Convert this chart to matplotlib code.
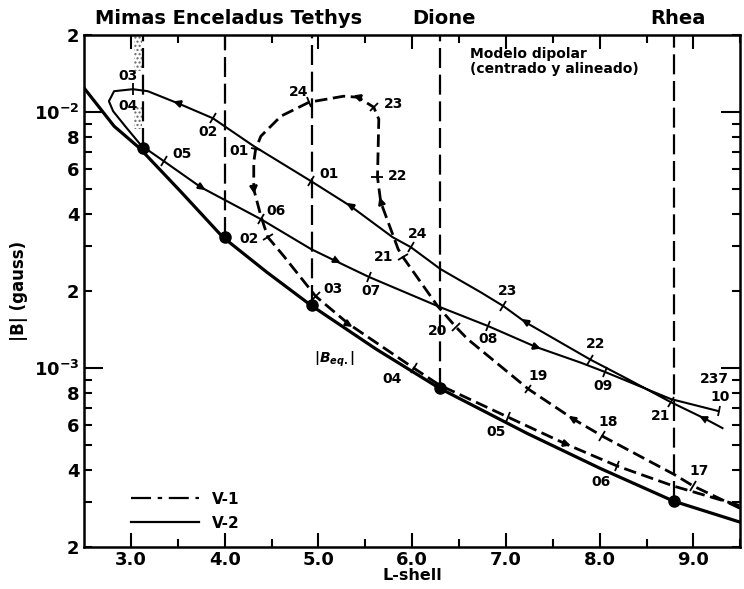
import numpy as np
import matplotlib.pyplot as plt
from matplotlib.markers import MarkerStyle
from matplotlib.transforms import Affine2D
from matplotlib.lines import Line2D

# equatorial dipole field |B_eq|
beq_L = [2.51, 2.82, 3.09, 3.53, 3.98, 4.45, 4.92, 5.61, 6.29, 7.23, 8.01, 8.79, 9.50]
beq_B = [0.0123, 0.00882, 0.00725, 0.00490, 0.00325, 0.00237, 0.00176, 0.00119,
         0.000835, 0.000555, 0.000405, 0.000302, 0.000250]

# Voyager 2 trajectory (solid), in time order
v2_L = [9.31, 9.11, 8.76, 8.30, 7.90, 7.21, 6.97, 6.73, 6.30, 5.985, 5.79, 5.345,
        4.92, 4.31, 3.874, 3.50, 3.18, 3.02, 2.82, 2.765, 2.81, 2.947, 3.107, 3.35,
        3.746, 4.386, 4.92, 5.185, 5.54, 6.30, 6.81, 7.32, 7.80, 8.06, 8.76, 9.27]
v2_B = [0.000583, 0.000638, 0.000736, 0.000906, 0.00108, 0.00151, 0.00175, 0.00198,
        0.00244, 0.00297, 0.00325, 0.00429, 0.00538, 0.00737, 0.00947, 0.01084,
        0.01208, 0.01230, 0.01208, 0.01104, 0.01009, 0.00874, 0.00743, 0.00644,
        0.00509, 0.00382, 0.00292, 0.00262, 0.00227, 0.00173, 0.00146, 0.00121,
        0.00105, 0.000965, 0.000757, 0.000679]
v2_arrows = [1, 5, 11, 15, 24, 27, 31]
v2_ticks = [2, 4, 6, 9, 12, 14, 17, 23, 25, 28, 30, 33, 35]

# Voyager 1 trajectory (dashed), in time order
v1_L = [9.50, 9.00, 8.79, 8.03, 7.72, 7.24, 6.59, 6.465, 6.27, 5.90, 5.85, 5.665,
        5.63, 5.644, 5.59, 5.42, 5.27, 4.90, 4.60, 4.386, 4.33, 4.31, 4.31, 4.386,
        4.46, 4.63, 4.97, 5.32, 6.017, 6.29, 7.02, 7.64, 8.19, 8.79, 9.50]
v1_B = [0.000283, 0.000346, 0.000385, 0.000542, 0.000632, 0.000828, 0.00130, 0.00145,
        0.00175, 0.00272, 0.00292, 0.00445, 0.00557, 0.00939, 0.01046, 0.01144,
        0.01155, 0.01094, 0.00965, 0.00806, 0.00717, 0.00638, 0.00500, 0.00393,
        0.00325, 0.00274, 0.00191, 0.00149, 0.00100, 0.000859, 0.000644, 0.000505,
        0.000414, 0.000346, 0.000290]
v1_arrows = [4, 11, 15, 22, 27, 31]
v1_ticks = [1, 3, 5, 7, 9, 12, 14, 17, 20, 24, 26, 28, 30, 32]

# hour labels
v2_lab = ['21', '22', '23', '24', '01', '02', '03', '04', '05', '06', '07', '08', '09', '10', '237']
v2_lab_L = [8.65, 7.96, 7.02, 6.06, 5.11, 3.82, 2.97, 2.97, 3.55, 4.55, 5.56, 6.81, 8.04, 9.29, 9.22]
v2_lab_B = [0.000650, 0.00124, 0.00200, 0.00334, 0.00573, 0.00835, 0.01383, 0.01055,
            0.00686, 0.00410, 0.00200, 0.00130, 0.000851, 0.000771, 0.000906]
v1_lab = ['17', '18', '19', '20', '21', '22', '23', '24', '01', '02', '03', '04', '05', '06']
v1_lab_L = [9.06, 8.09, 7.34, 6.27, 5.70, 5.85, 5.80, 4.79, 4.15, 4.26, 5.16, 5.79, 6.89, 8.01]
v1_lab_B = [0.000396, 0.000615, 0.000930, 0.00140, 0.00272, 0.00562, 0.01075, 0.01197,
            0.00705, 0.00319, 0.00204, 0.000906, 0.000562, 0.000359]

# satellites
moons = ['Mimas', 'Enceladus', 'Tethys', 'Dione', 'Rhea']
moon_L = [3.13, 4.00, 4.93, 6.30, 8.79]
moon_B = [0.00725, 0.00325, 0.00176, 0.000835, 0.000302]

plt.rcParams['font.family'] = 'DejaVu Sans'
plt.rcParams['font.weight'] = 'bold'

fig = plt.figure(figsize=(7.44, 5.89), dpi=100)
ax = fig.add_axes([0.113, 0.0713, 0.882, 0.869])
ax.set_yscale('log')
ax.set_xlim(2.5, 9.5)
ax.set_ylim(2e-4, 2e-2)

# moon orbits
for L, B in zip(moon_L, moon_B):
    ax.plot([L, L], [B, 2e-2], color='k', lw=1.6, dashes=(9, 3))
ax.plot(moon_L, moon_B, 'o', color='k', ms=8)
ax.fill_betweenx([0.01445, 0.02], 3.03, 3.12, hatch='....', facecolor='none', edgecolor='0.4', lw=0)
ax.fill_betweenx([0.00858, 0.01046], 3.03, 3.12, hatch='....', facecolor='none', edgecolor='0.4', lw=0)

ax.plot(beq_L, beq_B, color='k', lw=2.3)
ax.plot(v2_L, v2_B, color='k', lw=1.5)
ax.plot(v1_L, v1_B, color='k', lw=2.0, dashes=(4.5, 2))


def path_marks(L, B, idx, marker, ms):
    pts = ax.transData.transform(np.column_stack([L, B]))
    for i in idx:
        a = pts[max(i - 1, 0)]
        b = pts[min(i + 1, len(pts) - 1)]
        ang = np.degrees(np.arctan2(b[1] - a[1], b[0] - a[0]))
        m = MarkerStyle(marker, transform=Affine2D().rotate_deg(ang))
        ax.plot(L[i], B[i], marker=m, ms=ms, color='k', mew=1.3, ls='none')


path_marks(v2_L, v2_B, v2_arrows, '>', 4.5)
path_marks(v1_L, v1_B, v1_arrows, '>', 4.5)
path_marks(v2_L, v2_B, v2_ticks, '|', 8)
path_marks(v1_L, v1_B, v1_ticks, '|', 8)

for t, L, B in zip(v2_lab + v1_lab, v2_lab_L + v1_lab_L, v2_lab_B + v1_lab_B):
    ax.text(L, B, t, ha='center', va='center', fontsize=10, fontweight='bold')

ax.text(5.17, 0.00108, r'$|B_{eq.}|$', ha='center', va='center', fontsize=10)
ax.text(6.62, 0.0158, 'Modelo dipolar\n(centrado y alineado)', ha='left', va='center',
        fontsize=10, fontweight='bold', linespacing=1.1)

tr = ax.get_xaxis_transform()
ax.text(4.04, 1.033, 'Mimas Enceladus Tethys', transform=tr, ha='center', va='center', fontsize=14)
ax.text(6.34, 1.033, 'Dione', transform=tr, ha='center', va='center', fontsize=14)
ax.text(8.83, 1.033, 'Rhea', transform=tr, ha='center', va='center', fontsize=14)

# ticks
ax.set_xticks([3, 4, 5, 6, 7, 8, 9])
ax.set_xticklabels(['3.0', '4.0', '5.0', '6.0', '7.0', '8.0', '9.0'])
ax.set_xticks([3.5, 4.5, 5.5, 6.5, 7.5, 8.5, 9.5], minor=True)
ax.set_yticks([1e-3, 1e-2])
ax.set_yticklabels([r'$\mathbf{10^{-3}}$', r'$\mathbf{10^{-2}}$'])
ymin = [k * 1e-4 for k in range(2, 10)] + [k * 1e-3 for k in range(2, 10)] + [2e-2]
ylab = ['2', '', '4', '', '6', '', '8', ''] * 2 + ['2']
ax.set_yticks(ymin, minor=True)
ax.set_yticklabels(ylab, minor=True)
ax.tick_params(which='both', direction='in', top=True, right=True, labelsize=13, width=1.5)
ax.tick_params(axis='x', which='both', pad=3)
ax.tick_params(which='major', length=10)
ax.tick_params(which='minor', length=6)
ax.tick_params(axis='y', which='major', length=14)
for s in ax.spines.values():
    s.set_linewidth(1.8)

ax.set_xlabel('L-shell', fontsize=11.5, fontweight='bold', labelpad=-1)
ax.set_ylabel('|B| (gauss)', fontsize=12, fontweight='bold', labelpad=4)

h = [Line2D([], [], color='k', lw=1.6, dashes=(9, 3, 2, 3)), Line2D([], [], color='k', lw=1.6)]
ax.legend(h, ['V-1', 'V-2'], loc='lower left', bbox_to_anchor=(0.05, 0.005), frameon=False,
          fontsize=11, handlelength=4.5, labelspacing=0.6)

fig.savefig('out.png', dpi=100)
